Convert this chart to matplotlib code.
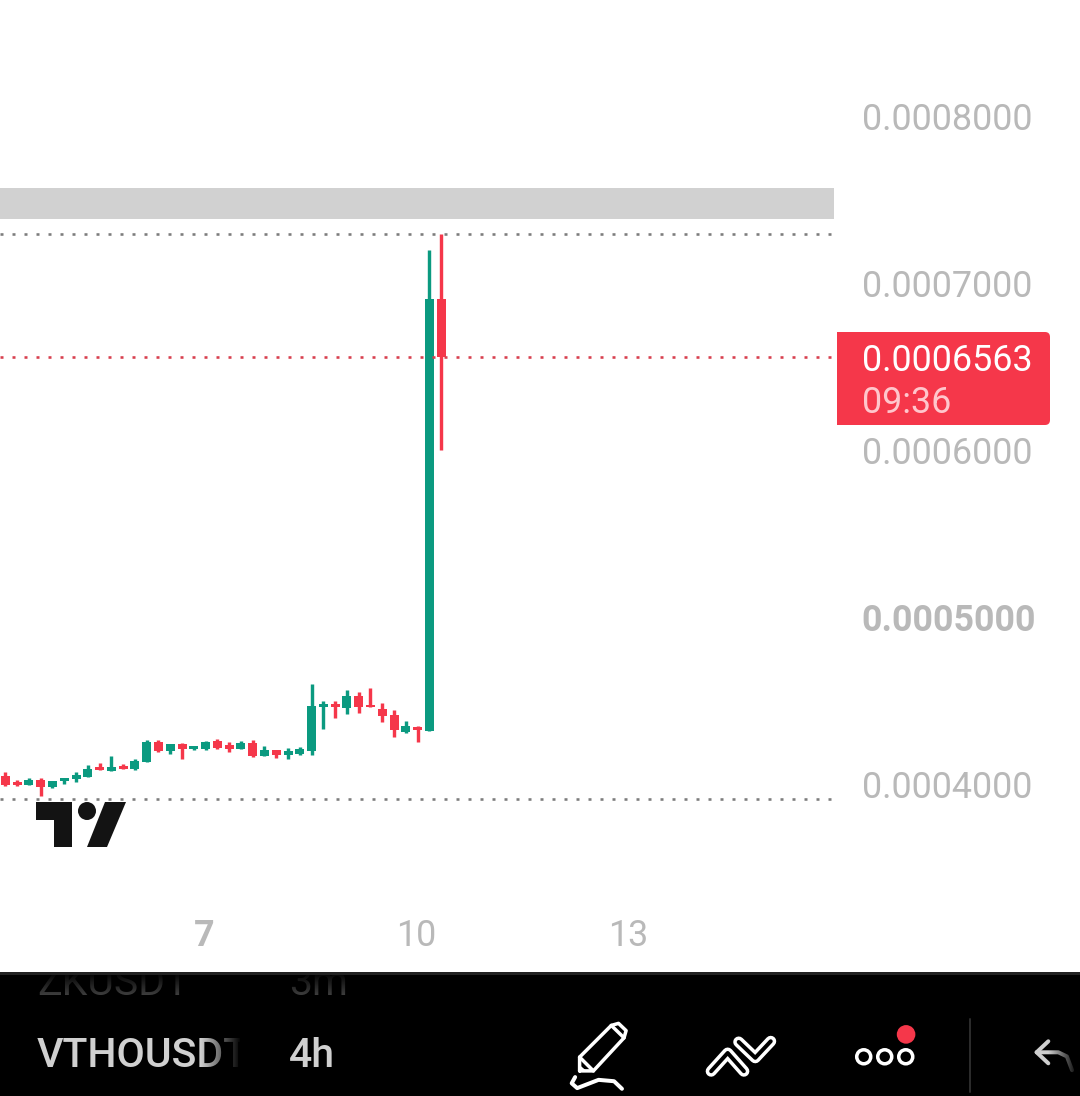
import numpy as np
import matplotlib
matplotlib.use("Agg")
import matplotlib.pyplot as plt
from matplotlib.patches import Rectangle, Circle, Polygon, FancyBboxPatch
from matplotlib.transforms import ScaledTranslation

plt.rcParams['font.family'] = ['Roboto', 'DejaVu Sans']
plt.rcParams['lines.scale_dashes'] = False

# ---- data (4h candles, day-of-month axis) ----
candle_index = list(range(-35, 3))  # 4h bars relative to day 10 00:00
opens = [4.054e-4, 4.018e-4, 4.000e-4, 4.030e-4, 3.990e-4, 4.024e-4, 4.038e-4, 4.048e-4, 4.108e-4, 4.084e-4,
         4.114e-4, 4.096e-4, 4.138e-4, 4.257e-4, 4.204e-4, 4.246e-4, 4.216e-4, 4.216e-4, 4.263e-4, 4.240e-4,
         4.216e-4, 4.251e-4, 4.174e-4, 4.210e-4, 4.180e-4, 4.186e-4, 4.204e-4, 4.467e-4, 4.485e-4, 4.461e-4,
         4.533e-4, 4.479e-4, 4.455e-4, 4.419e-4, 4.317e-4, 4.347e-4, 4.323e-4, 6.910e-4]
closes = [4.000e-4, 4.000e-4, 4.028e-4, 3.990e-4, 4.022e-4, 4.042e-4, 4.058e-4, 4.096e-4, 4.090e-4, 4.108e-4,
          4.096e-4, 4.146e-4, 4.257e-4, 4.204e-4, 4.246e-4, 4.216e-4, 4.234e-4, 4.257e-4, 4.222e-4, 4.216e-4,
          4.251e-4, 4.174e-4, 4.210e-4, 4.180e-4, 4.204e-4, 4.216e-4, 4.473e-4, 4.485e-4, 4.467e-4, 4.533e-4,
          4.467e-4, 4.467e-4, 4.413e-4, 4.329e-4, 4.353e-4, 4.329e-4, 6.910e-4, 6.563e-4]
highs = [4.076e-4, 4.028e-4, 4.042e-4, 4.040e-4, 4.024e-4, 4.042e-4, 4.076e-4, 4.120e-4, 4.132e-4, 4.174e-4,
         4.126e-4, 4.156e-4, 4.268e-4, 4.269e-4, 4.246e-4, 4.250e-4, 4.234e-4, 4.263e-4, 4.275e-4, 4.257e-4,
         4.263e-4, 4.269e-4, 4.234e-4, 4.210e-4, 4.222e-4, 4.228e-4, 4.605e-4, 4.503e-4, 4.503e-4, 4.569e-4,
         4.557e-4, 4.581e-4, 4.491e-4, 4.449e-4, 4.383e-4, 4.353e-4, 7.204e-4, 7.299e-4]
lows = [3.994e-4, 3.992e-4, 4.000e-4, 3.934e-4, 3.982e-4, 4.006e-4, 4.018e-4, 4.048e-4, 4.090e-4, 4.084e-4,
        4.096e-4, 4.090e-4, 4.138e-4, 4.198e-4, 4.186e-4, 4.156e-4, 4.210e-4, 4.210e-4, 4.216e-4, 4.198e-4,
        4.216e-4, 4.168e-4, 4.174e-4, 4.162e-4, 4.156e-4, 4.180e-4, 4.180e-4, 4.335e-4, 4.401e-4, 4.425e-4,
        4.431e-4, 4.467e-4, 4.377e-4, 4.287e-4, 4.311e-4, 4.257e-4, 4.323e-4, 6.006e-4]
zone_low, zone_high = 7.390e-4, 7.575e-4
level_high, level_low = 7.299e-4, 3.916e-4
last_price = 6.563e-4
price_ticks = [4e-4, 5e-4, 6e-4, 7e-4, 8e-4]
price_labels = ['0.0004000', '0.0005000', '0.0006000', '0.0007000', '0.0008000']
day_ticks = [7, 10, 13]
day_labels = ['7', '10', '13']

GREEN = '#0B9A80'
RED = '#F5374A'
GREY = '#B9B9B9'
W, H = 1080, 1096
PX = 0.72  # points per pixel at dpi 100
days = np.array(candle_index) / 6 + 10
px_per_day = 212 / 3
price_per_px = 1e-4 / 167

fig = plt.figure(figsize=(W / 100, H / 100), dpi=100, facecolor='white')
ax = fig.add_axes([0, (H - 972) / H, 834 / W, 972 / H])
ax.set_xlim(7 - 205.6 / px_per_day, 7 + 628.4 / px_per_day)
ax.set_ylim(8e-4 - (972 - 117) * price_per_px, 8e-4 + 117 * price_per_px)
for s in ax.spines.values():
    s.set_visible(False)

colors = [GREEN if c >= o else RED for o, c in zip(opens, closes)]
ax.vlines(days, lows, highs, colors=colors, lw=3.4 * PX, zorder=2)
ax.bar(days, np.abs(np.array(closes) - np.array(opens)), bottom=np.minimum(opens, closes),
       width=9 / px_per_day, color=colors, zorder=3, linewidth=0)

ax.axhspan(zone_low, zone_high, color='#D1D1D1', lw=0, zorder=1)
dots = (0, (3 * PX, 9 * PX))
ax.axhline(level_high, color='#7d7d7d', lw=2.6 * PX, ls=dots, zorder=4)
ax.axhline(level_low, color='#7d7d7d', lw=2.6 * PX, ls=dots, zorder=4)
ax.axhline(last_price, color='#D8404F', lw=2.6 * PX, ls=dots, zorder=4)

ax.yaxis.tick_right()
ax.set_yticks(price_ticks, price_labels)
ax.tick_params(axis='y', length=0, pad=27.5 * PX, labelsize=25.8, labelcolor=GREY)
for t in ax.get_yticklabels():
    t.set_transform(t.get_transform() + ScaledTranslation(0, 1 / 100, fig.dpi_scale_trans))
    if t.get_text() == '0.0005000':
        t.set_fontweight('bold')
ax.set_xticks(day_ticks, day_labels)
ax.tick_params(axis='x', length=0, pad=-54 * PX, labelsize=25.8, labelcolor=GREY)
for t in ax.get_xticklabels():
    t.set_transform(t.get_transform() + ScaledTranslation(-1 / 100, 0, fig.dpi_scale_trans))
    if t.get_text() == '7':
        t.set_fontweight('bold')

# ---- overlay in pixel coordinates: logo, price label, app toolbar ----
ov = fig.add_axes([0, 0, 1, 1], zorder=5)
ov.patch.set_alpha(0)
ov.axis('off')

# logo
LOGO = '#131313'
ov.add_patch(Polygon([(36, 802), (72, 802), (72, 847), (54, 847), (54, 820), (36, 820)], fc=LOGO, lw=0))
ov.add_patch(Circle((87, 811), 9, fc=LOGO, lw=0))
ov.add_patch(Polygon([(105, 802), (126, 802), (107, 847), (87, 847)], fc=LOGO, lw=0))

# price label
ov.add_patch(FancyBboxPatch((840, 335), 207, 87, boxstyle='round,pad=3,rounding_size=5', fc=RED, lw=0))
ov.add_patch(Rectangle((837, 332), 20, 93, fc=RED, lw=0))
ov.text(862, 371, '0.0006563', color='white', fontsize=25.8, va='baseline', ha='left')
ov.text(862, 413, '09:36', color='#FFC6CC', fontsize=25.8, va='baseline', ha='left')

# toolbar
ov.add_patch(Rectangle((0, 972), W, H - 972, fc='black', lw=0))
ov.add_patch(Rectangle((0, 972), W, 3, fc='#222222', lw=0))
ov.set_xlim(0, W)
ov.set_ylim(H, 0)
clip_top = Rectangle((0, 975), W, 30, transform=ov.transData)
for x, s in [(37, 'ZKUSDT'), (289, '3m')]:
    t = ov.text(x, 995, s, color='#4a4a4a', fontsize=29.5, va='baseline', ha='left')
    t.set_clip_on(True)
    t.set_clip_path(clip_top)
clip_name = Rectangle((0, 1000), 240, 96, transform=ov.transData)
t = ov.text(37, 1067, 'VTHOUSDT', color='#D0D0D0', fontsize=29.5, fontweight='medium', va='baseline', ha='left')
t.set_clip_on(True)
t.set_clip_path(clip_name)
ov.text(289, 1067, '4h', color='#D0D0D0', fontsize=29.5, fontweight='medium', va='baseline', ha='left')

ZS = 1568 / 540  # scale of the icon sketch grid


def z(points):
    return [(540 + a / ZS, 960 + b / ZS) for a, b in points]


def stroke(points, color='white', px=3.5, **kw):
    xy = np.array(z(points))
    ov.plot(xy[:, 0], xy[:, 1], color=color, lw=px * PX, solid_capstyle='round',
            solid_joinstyle='round', **kw)


# pencil
stroke([(115, 322), (115, 282), (207, 190), (228, 184), (250, 205), (244, 226), (155, 322), (115, 322)])
stroke([(207, 190), (244, 226)])
stroke([(115, 282), (155, 322)])
ov.add_patch(Polygon(z([(115, 322), (115, 305), (135, 322)]), fc='white', lw=0))
stroke([(102, 340), (92, 358), (108, 372), (170, 348), (215, 352), (238, 374)], px=4)
# chevrons
up = [(497, 323), (545, 270), (592, 323)]
down = [(577, 238), (625, 284), (670, 236)]
for pts in (up, down):
    stroke(pts, px=11)
    stroke(pts, color='black', px=4)
# circles
for cx in (940, 1001, 1062):
    (x0, y0), = z([(cx, 281)])
    ov.add_patch(Circle((x0, y0), 7, fc='black', ec='white', lw=3.5 * PX))
(x0, y0), = z([(1063, 216)])
ov.add_patch(Circle((x0, y0), 11.5, fc='black', lw=0))
ov.add_patch(Circle((x0, y0), 9.3, fc=RED, lw=0))
# divider
stroke([(1250, 172), (1250, 384)], color='#2b2b2b', px=2)
# undo arrow
stroke([(1476, 236), (1442, 268), (1476, 300)], color='#CFCFCF', px=4)
stroke([(1442, 268), (1505, 268), (1530, 280), (1545, 320)], color='#CFCFCF', px=4)

# fades at the clipped ends of toolbar text and icon
fade = np.zeros((1, 64, 4))
fade[0, :, 3] = np.linspace(0, 1, 64)
ov.imshow(fade, extent=(200, 241, 1100, 1010), aspect='auto', zorder=6)
ov.imshow(fade, extent=(1048, 1078, 1096, 1030), aspect='auto', zorder=6)
top_fade = np.zeros((32, 1, 4))
top_fade[:, 0, 3] = np.linspace(0.9, 0, 32)
ov.imshow(top_fade, extent=(0, 400, 1000, 975), aspect='auto', origin='upper', zorder=6)

ov.set_xlim(0, W)
ov.set_ylim(H, 0)

fig.savefig('out.png', dpi=100, facecolor='white')
